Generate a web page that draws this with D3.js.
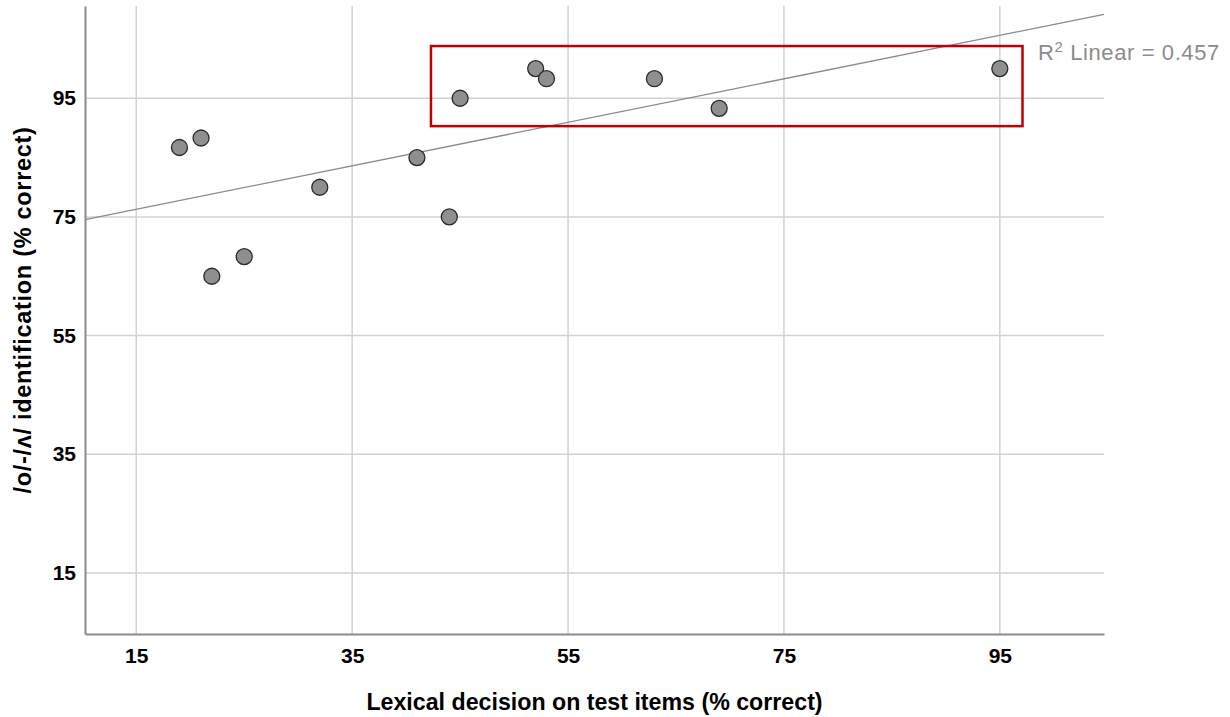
<!DOCTYPE html>
<html>
<head>
<meta charset="utf-8">
<script src="https://cdn.jsdelivr.net/npm/d3@7"></script>
<style>
  html, body { margin: 0; padding: 0; background: #fff; }
  svg { display: block; font-family: "Liberation Sans", Arial, sans-serif; }
</style>
</head>
<body>
<svg id="chart" width="1230" height="717"></svg>
<script>
// ---- data ----
const lexicalDecision = [19, 21, 22, 25, 32, 41, 44, 45, 52, 53, 63, 69, 95];
const identification  = [86.7, 88.3, 65.0, 68.3, 80.0, 85.0, 75.0, 95.0, 100.0, 98.3, 98.3, 93.3, 100.0];
const xTicks = [15, 35, 55, 75, 95];
const yTicks = [15, 35, 55, 75, 95];
const xDomain = [10.25, 104.65];
const yDomain = [4.7, 110.55];
// highlight box in data units: [x0, x1, y0, y1]
const highlightBox = [42.3, 97.1, 90.3, 103.8];
const xTitle = "Lexical decision on test items (% correct)";
const yTitle = "/o/-/ʌ/ identification (% correct)";

// ---- layout ----
const svg = d3.select("#chart");
const mLeft = 85, mRight = 1104, mTop = 6, mBottom = 634;

const x = d3.scaleLinear().domain(xDomain).range([mLeft, mRight]);
const y = d3.scaleLinear().domain(yDomain).range([mBottom, mTop]);

// gridlines
const grid = svg.append("g");
grid.selectAll("line.v").data(xTicks).join("line").attr("class", "v")
  .attr("x1", d => x(d)).attr("x2", d => x(d))
  .attr("y1", mTop).attr("y2", mBottom)
  .attr("stroke", "#d2d2d2").attr("stroke-width", 1.5);
grid.selectAll("line.h").data(yTicks).join("line").attr("class", "h")
  .attr("x1", mLeft).attr("x2", mRight)
  .attr("y1", d => y(d)).attr("y2", d => y(d))
  .attr("stroke", "#d2d2d2").attr("stroke-width", 1.5);

// axes
const xAxis = d3.axisBottom(x).tickValues(xTicks).tickSize(0).tickPadding(14);
const yAxis = d3.axisLeft(y).tickValues(yTicks).tickSize(0).tickPadding(9);
const gx = svg.append("g").attr("transform", `translate(0,${mBottom})`).call(xAxis);
const gy = svg.append("g").attr("transform", `translate(${mLeft},0)`).call(yAxis);
[gx, gy].forEach(g => {
  g.select(".domain").attr("stroke", "#8c8c8c").attr("stroke-width", 2);
  g.selectAll("text").attr("font-size", 21).attr("font-weight", "bold")
    .attr("fill", "#000").attr("font-family", "Liberation Sans, Arial, sans-serif");
});

// regression line (least squares)
const n = lexicalDecision.length;
const mx = d3.mean(lexicalDecision), my = d3.mean(identification);
let sxy = 0, sxx = 0, syy = 0;
for (let i = 0; i < n; i++) {
  const dx = lexicalDecision[i] - mx, dy = identification[i] - my;
  sxy += dx * dy; sxx += dx * dx; syy += dy * dy;
}
const slope = sxy / sxx, intercept = my - slope * mx;
const r2 = (sxy * sxy) / (sxx * syy);
svg.append("line")
  .attr("x1", x(xDomain[0])).attr("y1", y(intercept + slope * xDomain[0]))
  .attr("x2", x(xDomain[1])).attr("y2", y(intercept + slope * xDomain[1]))
  .attr("stroke", "#8a8a8a").attr("stroke-width", 1.3);

// points
svg.append("g").selectAll("circle")
  .data(lexicalDecision.map((d, i) => [d, identification[i]]))
  .join("circle")
  .attr("cx", d => x(d[0])).attr("cy", d => y(d[1]))
  .attr("r", 8)
  .attr("fill", "#8f8f8f").attr("stroke", "#2a2a2a").attr("stroke-width", 1.3);

// highlight box
svg.append("rect")
  .attr("x", x(highlightBox[0])).attr("y", y(highlightBox[3]))
  .attr("width", x(highlightBox[1]) - x(highlightBox[0]))
  .attr("height", y(highlightBox[2]) - y(highlightBox[3]))
  .attr("fill", "none").attr("stroke", "#c00000").attr("stroke-width", 2.5);

// R² label
const lbl = svg.append("text").attr("x", 1038).attr("y", 60)
  .attr("font-size", 22).attr("letter-spacing", 0.6).attr("fill", "#8c8c8c");
lbl.append("tspan").text("R");
lbl.append("tspan").attr("font-size", 15).attr("dy", -8).text("2");
lbl.append("tspan").attr("dy", 8).text(" Linear = " + r2.toFixed(3));

// axis titles
svg.append("text").attr("x", (mLeft + mRight) / 2).attr("y", 710)
  .attr("text-anchor", "middle").attr("font-size", 23.2).attr("font-weight", "bold")
  .text(xTitle);
svg.append("text")
  .attr("transform", `translate(31,310) rotate(-90)`)
  .attr("text-anchor", "middle").attr("font-size", 23.5).attr("font-weight", "bold")
  .attr("letter-spacing", 0.7)
  .text(yTitle);
</script>
</body>
</html>
